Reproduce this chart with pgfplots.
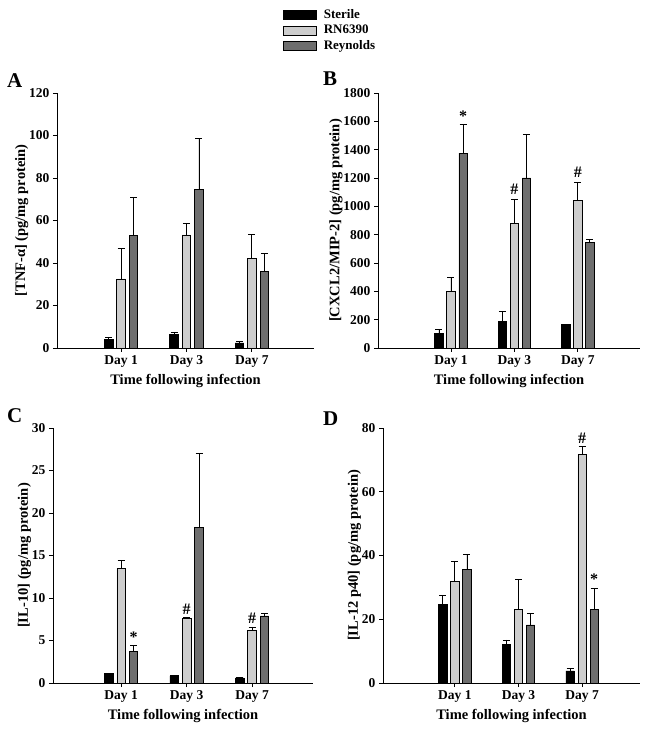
\documentclass[border=0pt]{standalone}
\usepackage{fontspec}
\setmainfont{Liberation Serif}
\usepackage{pgfplots}
\usepackage{pgfplotstable}
\pgfplotsset{compat=1.18}
\definecolor{cR}{HTML}{CDCDCD}
\definecolor{cY}{HTML}{6E6E6E}

\pgfplotstableread{
x s se r re y ye
1 4.2 1.0 32.5 14.5 52.8 18.2
2 6.3 1.1 53.2 5.6 74.7 24.1
3 2.4 0.6 42.2 11.3 36.0 8.7
}\dataA
\pgfplotstableread{
x s se r re y ye
1 100 30 400 95 1375 200
2 190 70 880 170 1200 310
3 165 3 1040 130 745 20
}\dataB
\pgfplotstableread{
x s se r re y ye
1 1.1 0.05 13.5 0.9 3.7 0.7
2 0.85 0.05 7.6 0.1 18.3 8.7
3 0.6 0.03 6.2 0.4 7.9 0.3
}\dataC
\pgfplotstableread{
x s se r re y ye
1 24.6 3.0 32.0 6.2 35.6 4.7
2 12.0 1.5 23.2 9.3 18.2 3.7
3 3.8 0.7 71.6 2.6 23.2 6.6
}\dataD

\tikzset{
 annot/.style={font=\fontsize{16}{18}\selectfont\bfseries, anchor=south, inner sep=2pt},
 letter/.style={font=\fontsize{21}{24}\selectfont\bfseries, anchor=north west, inner sep=0pt},
}
\pgfplotsset{
 panel/.style={
  scale only axis, anchor=south west, height=255pt,
  axis x line*=bottom, axis y line*=left,
  axis line style={line width=0.9pt},
  xtick={1,2,3}, xticklabels={Day 1,Day 3,Day 7},
  tick align=outside, major tick length=4pt,
  tick style={line width=0.9pt, black},
  ymin=0,
  ticklabel style={font=\fontsize{13.5}{15}\selectfont\bfseries},
  /pgf/number format/assume math mode=true,
  /pgf/number format/1000 sep={},
  label style={font=\fontsize{14.5}{16}\selectfont\bfseries},
  ylabel style={yshift=-6pt},
  xlabel={Time following infection},
  ybar, bar width=0.13,
  clip=false,
  every axis plot post/.append style={
    line width=0.7pt, draw=black,
    error bars/y dir=plus, error bars/y explicit,
    error bars/error bar style={line width=0.8pt,black},
    error bars/error mark options={rotate=90, line width=0.8pt, black, mark size=3.5pt},
    legend image code/.code={\draw[##1, line width=0.7pt] (0pt,-4.5pt) rectangle (33pt,4.5pt);}
  },
 },
}

\begin{document}
\begin{tikzpicture}
\path[use as bounding box] (0pt,0pt) rectangle (649pt,737pt);

% Panel A
\begin{axis}[panel, at={(57pt,389pt)}, width=257pt, xmin=0.02, xmax=3.95,
  ymax=120, ytick={0,20,...,120},
  ylabel={[TNF-α] (pg/mg protein)},
  legend style={at={(0.879,1.335)}, anchor=north west, draw=none, fill=none,
    font=\fontsize{13}{15}\selectfont\bfseries, row sep=1pt, column sep=5pt, inner sep=0pt},
  legend cell align=left]
\addplot[fill=black, bar shift=-0.19] table[x=x,y=s,y error=se]{\dataA};
\addplot[fill=cR, bar shift=0] table[x=x,y=r,y error=re]{\dataA};
\addplot[fill=cY, bar shift=0.19] table[x=x,y=y,y error=ye]{\dataA};
\legend{Sterile,RN6390,Reynolds}
\end{axis}

% Panel B
\begin{axis}[panel, at={(378pt,389pt)}, width=262pt, xmin=-0.15, xmax=3.98,
  ymax=1800, ytick={0,200,...,1800},
  ylabel={[CXCL2/MIP-2] (pg/mg protein)}]
\addplot[fill=black, bar shift=-0.19] table[x=x,y=s,y error=se]{\dataB};
\addplot[fill=cR, bar shift=0] table[x=x,y=r,y error=re]{\dataB};
\addplot[fill=cY, bar shift=0.19] table[x=x,y=y,y error=ye]{\dataB};
\node[annot] at (axis cs:1.19,1585) {*};
\node[annot] at (axis cs:2,1070) {\#};
\node[annot] at (axis cs:3,1190) {\#};
\end{axis}

% Panel C
\begin{axis}[panel, at={(53pt,54pt)}, width=260pt, xmin=-0.04, xmax=3.93,
  ymax=30, ytick={0,5,...,30},
  ylabel={[IL-10] (pg/mg protein)}]
\addplot[fill=black, bar shift=-0.19] table[x=x,y=s,y error=se]{\dataC};
\addplot[fill=cR, bar shift=0] table[x=x,y=r,y error=re]{\dataC};
\addplot[fill=cY, bar shift=0.19] table[x=x,y=y,y error=ye]{\dataC};
\node[annot] at (axis cs:1.19,4.5) {*};
\node[annot] at (axis cs:2,7.8) {\#};
\node[annot] at (axis cs:3,6.7) {\#};
\end{axis}

% Panel D
\begin{axis}[panel, at={(383pt,54pt)}, width=257pt, xmin=-0.13, xmax=3.91,
  ymax=80, ytick={0,20,...,80},
  ylabel={[IL-12 p40] (pg/mg protein)}]
\addplot[fill=black, bar shift=-0.19] table[x=x,y=s,y error=se]{\dataD};
\addplot[fill=cR, bar shift=0] table[x=x,y=r,y error=re]{\dataD};
\addplot[fill=cY, bar shift=0.19] table[x=x,y=y,y error=ye]{\dataD};
\node[annot] at (axis cs:3,74.5) {\#};
\node[annot] at (axis cs:3.19,30.2) {*};
\end{axis}

\node[letter] at (7pt,664pt) {A};
\node[letter] at (323pt,665pt) {B};
\node[letter] at (7pt,329pt) {C};
\node[letter] at (323pt,325pt) {D};
\end{tikzpicture}
\end{document}
